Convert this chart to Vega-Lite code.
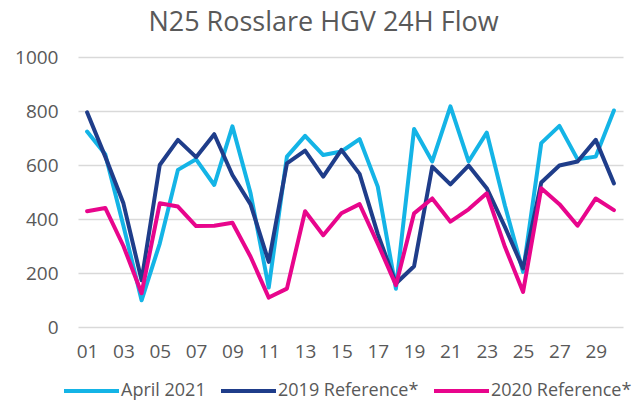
{
  "$schema": "https://vega.github.io/schema/vega-lite/v6.json",
  "width": 545,
  "height": 270,
  "autosize": {"type": "none"},
  "padding": {"left": 78, "top": 57, "right": 11, "bottom": 73},
  "background": "white",
  "config": {"view": {"stroke": null}, "font": "Open Sans"},
  "title": {"text": "N25 Rosslare HGV 24H Flow", "anchor": "middle", "dx": -27, "fontSize": 27, "fontWeight": "normal", "color": "#595959", "font": "Open Sans", "offset": 11},
  "data": {"values": [
    {"day": "01", "series": "April 2021", "value": 724},
    {"day": "02", "series": "April 2021", "value": 640},
    {"day": "03", "series": "April 2021", "value": 375},
    {"day": "04", "series": "April 2021", "value": 99},
    {"day": "05", "series": "April 2021", "value": 309},
    {"day": "06", "series": "April 2021", "value": 582},
    {"day": "07", "series": "April 2021", "value": 621},
    {"day": "08", "series": "April 2021", "value": 526},
    {"day": "09", "series": "April 2021", "value": 743},
    {"day": "10", "series": "April 2021", "value": 495},
    {"day": "11", "series": "April 2021", "value": 146},
    {"day": "12", "series": "April 2021", "value": 631},
    {"day": "13", "series": "April 2021", "value": 708},
    {"day": "14", "series": "April 2021", "value": 637},
    {"day": "15", "series": "April 2021", "value": 650},
    {"day": "16", "series": "April 2021", "value": 696},
    {"day": "17", "series": "April 2021", "value": 520},
    {"day": "18", "series": "April 2021", "value": 142},
    {"day": "19", "series": "April 2021", "value": 733},
    {"day": "20", "series": "April 2021", "value": 613},
    {"day": "21", "series": "April 2021", "value": 817},
    {"day": "22", "series": "April 2021", "value": 613},
    {"day": "23", "series": "April 2021", "value": 720},
    {"day": "24", "series": "April 2021", "value": 450},
    {"day": "25", "series": "April 2021", "value": 204},
    {"day": "26", "series": "April 2021", "value": 681},
    {"day": "27", "series": "April 2021", "value": 745},
    {"day": "28", "series": "April 2021", "value": 621},
    {"day": "29", "series": "April 2021", "value": 631},
    {"day": "30", "series": "April 2021", "value": 802},
    {"day": "01", "series": "2019 Reference*", "value": 795},
    {"day": "02", "series": "2019 Reference*", "value": 631},
    {"day": "03", "series": "2019 Reference*", "value": 458},
    {"day": "04", "series": "2019 Reference*", "value": 173},
    {"day": "05", "series": "2019 Reference*", "value": 600},
    {"day": "06", "series": "2019 Reference*", "value": 693},
    {"day": "07", "series": "2019 Reference*", "value": 629},
    {"day": "08", "series": "2019 Reference*", "value": 714},
    {"day": "09", "series": "2019 Reference*", "value": 563},
    {"day": "10", "series": "2019 Reference*", "value": 454},
    {"day": "11", "series": "2019 Reference*", "value": 241},
    {"day": "12", "series": "2019 Reference*", "value": 606},
    {"day": "13", "series": "2019 Reference*", "value": 653},
    {"day": "14", "series": "2019 Reference*", "value": 557},
    {"day": "15", "series": "2019 Reference*", "value": 656},
    {"day": "16", "series": "2019 Reference*", "value": 567},
    {"day": "17", "series": "2019 Reference*", "value": 345},
    {"day": "18", "series": "2019 Reference*", "value": 161},
    {"day": "19", "series": "2019 Reference*", "value": 225},
    {"day": "20", "series": "2019 Reference*", "value": 594},
    {"day": "21", "series": "2019 Reference*", "value": 528},
    {"day": "22", "series": "2019 Reference*", "value": 598},
    {"day": "23", "series": "2019 Reference*", "value": 514},
    {"day": "24", "series": "2019 Reference*", "value": 371},
    {"day": "25", "series": "2019 Reference*", "value": 217},
    {"day": "26", "series": "2019 Reference*", "value": 535},
    {"day": "27", "series": "2019 Reference*", "value": 598},
    {"day": "28", "series": "2019 Reference*", "value": 613},
    {"day": "29", "series": "2019 Reference*", "value": 693},
    {"day": "30", "series": "2019 Reference*", "value": 532},
    {"day": "01", "series": "2020 Reference*", "value": 429},
    {"day": "02", "series": "2020 Reference*", "value": 441},
    {"day": "03", "series": "2020 Reference*", "value": 300},
    {"day": "04", "series": "2020 Reference*", "value": 125},
    {"day": "05", "series": "2020 Reference*", "value": 458},
    {"day": "06", "series": "2020 Reference*", "value": 446},
    {"day": "07", "series": "2020 Reference*", "value": 374},
    {"day": "08", "series": "2020 Reference*", "value": 375},
    {"day": "09", "series": "2020 Reference*", "value": 386},
    {"day": "10", "series": "2020 Reference*", "value": 260},
    {"day": "11", "series": "2020 Reference*", "value": 109},
    {"day": "12", "series": "2020 Reference*", "value": 142},
    {"day": "13", "series": "2020 Reference*", "value": 429},
    {"day": "14", "series": "2020 Reference*", "value": 340},
    {"day": "15", "series": "2020 Reference*", "value": 421},
    {"day": "16", "series": "2020 Reference*", "value": 455},
    {"day": "17", "series": "2020 Reference*", "value": 309},
    {"day": "18", "series": "2020 Reference*", "value": 155},
    {"day": "19", "series": "2020 Reference*", "value": 421},
    {"day": "20", "series": "2020 Reference*", "value": 476},
    {"day": "21", "series": "2020 Reference*", "value": 390},
    {"day": "22", "series": "2020 Reference*", "value": 436},
    {"day": "23", "series": "2020 Reference*", "value": 495},
    {"day": "24", "series": "2020 Reference*", "value": 297},
    {"day": "25", "series": "2020 Reference*", "value": 130},
    {"day": "26", "series": "2020 Reference*", "value": 514},
    {"day": "27", "series": "2020 Reference*", "value": 455},
    {"day": "28", "series": "2020 Reference*", "value": 375},
    {"day": "29", "series": "2020 Reference*", "value": 476},
    {"day": "30", "series": "2020 Reference*", "value": 433}
  ]},
  "mark": {"type": "line", "strokeWidth": 4, "strokeJoin": "round", "strokeCap": "round"},
  "encoding": {
    "x": {"field": "day", "type": "ordinal", "scale": {"type": "point", "padding": 0.5},
      "axis": {"title": null, "values": ["01","03","05","07","09","11","13","15","17","19","21","23","25","27","29"], "labelAngle": 0, "domain": false, "ticks": false, "grid": false, "labelFontSize": 19, "labelColor": "#595959", "labelPadding": 15, "labelFont": "Open Sans"}},
    "y": {"field": "value", "type": "quantitative", "scale": {"domain": [0, 1000], "nice": false},
      "axis": {"title": null, "values": [0, 200, 400, 600, 800, 1000], "format": "d", "domain": false, "ticks": false, "gridColor": "#D9D9D9", "gridWidth": 1.3, "labelFontSize": 19, "labelColor": "#595959", "labelPadding": 20, "labelFont": "Open Sans"}},
    "color": {"field": "series", "type": "nominal",
      "scale": {"domain": ["April 2021", "2019 Reference*", "2020 Reference*"], "range": ["#14B4E6", "#1F3D8A", "#E8058C"]},
      "legend": {"title": null, "orient": "none", "direction": "horizontal", "legendX": -26, "legendY": 322, "symbolType": "M0,0H5.5", "symbolSize": 400, "symbolStrokeWidth": 4, "labelFontSize": 18, "labelColor": "#595959", "labelFont": "Open Sans", "labelOffset": 45, "columnPadding": 3}},
    "order": {"field": "series"}
  }
}
